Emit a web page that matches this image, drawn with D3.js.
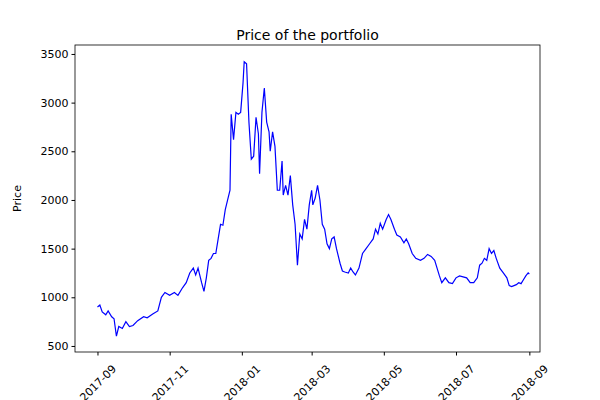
<!DOCTYPE html>
<html><head><meta charset="utf-8">
<script src="https://cdn.jsdelivr.net/npm/d3@7"></script>
<style>body{margin:0;background:#fff;font-family:"DejaVu Sans",sans-serif;}</style>
</head><body>
<script>
var dates = ["2017-09-01","2017-09-03","2017-09-05","2017-09-08","2017-09-10","2017-09-13","2017-09-15","2017-09-17","2017-09-19","2017-09-22","2017-09-25","2017-09-28","2017-10-01","2017-10-05","2017-10-10","2017-10-13","2017-10-18","2017-10-22","2017-10-25","2017-10-28","2017-11-01","2017-11-05","2017-11-08","2017-11-12","2017-11-15","2017-11-18","2017-11-21","2017-11-23","2017-11-25","2017-11-28","2017-11-30","2017-12-02","2017-12-04","2017-12-06","2017-12-08","2017-12-10","2017-12-12","2017-12-14","2017-12-16","2017-12-18","2017-12-20","2017-12-22","2017-12-23","2017-12-25","2017-12-27","2017-12-29","2017-12-31","2018-01-02","2018-01-03","2018-01-05","2018-01-07","2018-01-09","2018-01-11","2018-01-13","2018-01-15","2018-01-16","2018-01-18","2018-01-20","2018-01-22","2018-01-24","2018-01-25","2018-01-27","2018-01-29","2018-01-31","2018-02-02","2018-02-04","2018-02-05","2018-02-07","2018-02-09","2018-02-11","2018-02-13","2018-02-15","2018-02-17","2018-02-19","2018-02-21","2018-02-23","2018-02-25","2018-02-27","2018-03-01","2018-03-02","2018-03-04","2018-03-06","2018-03-08","2018-03-10","2018-03-12","2018-03-14","2018-03-16","2018-03-18","2018-03-20","2018-03-22","2018-03-25","2018-03-27","2018-03-29","2018-04-01","2018-04-03","2018-04-05","2018-04-07","2018-04-10","2018-04-13","2018-04-16","2018-04-19","2018-04-22","2018-04-24","2018-04-26","2018-04-28","2018-04-30","2018-05-03","2018-05-05","2018-05-07","2018-05-10","2018-05-12","2018-05-15","2018-05-18","2018-05-20","2018-05-22","2018-05-25","2018-05-28","2018-06-01","2018-06-04","2018-06-07","2018-06-10","2018-06-13","2018-06-15","2018-06-17","2018-06-19","2018-06-22","2018-06-25","2018-06-28","2018-07-01","2018-07-04","2018-07-07","2018-07-10","2018-07-13","2018-07-16","2018-07-19","2018-07-21","2018-07-23","2018-07-25","2018-07-27","2018-07-29","2018-07-31","2018-08-02","2018-08-04","2018-08-07","2018-08-10","2018-08-13","2018-08-15","2018-08-17","2018-08-19","2018-08-21","2018-08-23","2018-08-25","2018-08-27","2018-08-29","2018-08-31","2018-09-01"];
var prices = [900,920,850,820,860,800,780,600,700,680,750,700,710,760,800,790,830,860,1000,1050,1020,1050,1020,1100,1150,1250,1300,1230,1300,1150,1060,1200,1380,1400,1450,1450,1600,1750,1740,1900,2000,2100,2880,2620,2900,2880,2900,3200,3420,3400,2800,2420,2450,2850,2680,2270,2900,3150,2800,2700,2500,2700,2550,2100,2100,2400,2050,2150,2050,2250,1950,1750,1330,1650,1600,1800,1700,1950,2100,1950,2020,2150,2000,1750,1700,1550,1500,1600,1620,1500,1350,1270,1260,1250,1300,1260,1230,1300,1450,1500,1550,1600,1700,1650,1760,1700,1800,1850,1800,1700,1640,1620,1560,1600,1550,1450,1400,1380,1400,1440,1420,1380,1300,1220,1150,1200,1150,1140,1200,1220,1210,1200,1150,1150,1200,1330,1350,1400,1380,1500,1450,1480,1400,1300,1250,1200,1120,1110,1120,1130,1150,1140,1180,1220,1250,1240];
var yTicks = [500,1000,1500,2000,2500,3000,3500];
var xTicks = ["2017-09","2017-11","2018-01","2018-03","2018-05","2018-07","2018-09"];

var parse = d3.timeParse("%Y-%m-%d"), parseM = d3.timeParse("%Y-%m");
var data = dates.map(function (d, i) { return {date: parse(d), price: prices[i]}; });

var margin = {top: 45, right: 60, bottom: 48, left: 75},
    width = 600 - margin.left - margin.right,
    height = 400 - margin.top - margin.bottom;

var svg = d3.select("body").append("svg").attr("width", 600).attr("height", 400);
var g = svg.append("g").attr("transform", "translate(" + margin.left + "," + margin.top + ")");

var x = d3.scaleTime().domain([parse("2017-08-13"), parse("2018-09-10")]).range([0, width]);
var y = d3.scaleLinear().domain([438, 3592]).range([height, 0]);

g.append("path")
    .attr("fill", "none").attr("stroke", "#0000ff").attr("stroke-width", 1.2)
    .attr("d", d3.line().x(function (d) { return x(d.date); }).y(function (d) { return y(d.price); })(data));

var xa = g.append("g").attr("transform", "translate(0," + height + ")")
    .call(d3.axisBottom(x).tickValues(xTicks.map(parseM)).tickFormat(d3.timeFormat("%Y-%m")).tickSizeOuter(0).tickSize(3.5));
xa.selectAll("text").attr("font-size", 11).attr("font-family", "DejaVu Sans").attr("fill", "#000")
    .attr("text-anchor", "middle").attr("dy", "0.35em").attr("y", 0)
    .attr("transform", "translate(0,31) rotate(-45)");

var ya = g.append("g").call(d3.axisLeft(y).tickValues(yTicks).tickFormat(d3.format("d")).tickSizeOuter(0).tickSize(3.5));
ya.selectAll("text").attr("font-size", 11).attr("font-family", "DejaVu Sans").attr("fill", "#000");
g.selectAll(".domain").remove();

g.append("rect").attr("width", width).attr("height", height).attr("fill", "none").attr("stroke", "#000").attr("stroke-width", 0.8);

svg.append("text").attr("x", margin.left + width / 2).attr("y", 40).attr("text-anchor", "middle")
    .attr("font-size", 14).text("Price of the portfolio");
svg.append("text").attr("transform", "translate(21," + (margin.top + height / 2) + ") rotate(-90)")
    .attr("text-anchor", "middle").attr("font-size", 11).text("Price");
</script>
</body></html>
